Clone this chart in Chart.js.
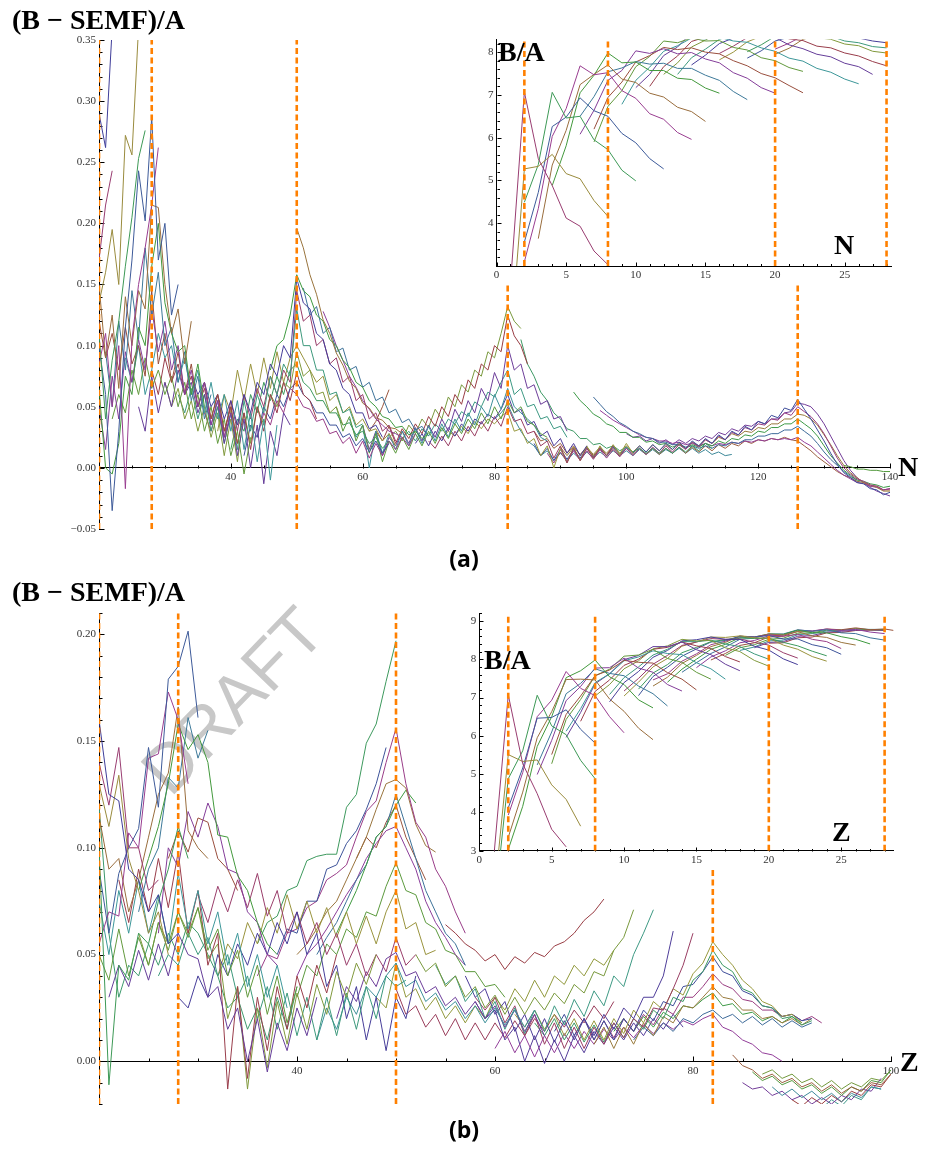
<!DOCTYPE html>
<html><head><meta charset="utf-8">
<script src="https://cdn.jsdelivr.net/npm/chart.js@4.4.1/dist/chart.umd.min.js"></script>
<style>
html,body{margin:0;padding:0;background:#fff;}
body{width:935px;height:1149px;position:relative;overflow:hidden;}
canvas{position:absolute;}
.main{z-index:1;}
.inset{z-index:2;background:#fff;}
.lbl{position:absolute;line-height:1;white-space:nowrap;color:#000;z-index:5;}
.serif{font-family:"Liberation Serif","Times New Roman",serif;font-weight:bold;font-size:28px;}
.cap{font-family:"Open Sans",sans-serif;font-weight:bold;font-size:23px;transform:translateX(-50%);}
#draft{position:absolute;font-family:"Liberation Sans",Arial,sans-serif;font-size:68px;color:#c8c8c8;left:232px;top:700px;transform:translate(-50%,-50%) rotate(-46deg);z-index:0;line-height:1;white-space:nowrap;}
</style></head><body>
<div id="draft">DRAFT</div>
<canvas id="mainA" class="main" width="935" height="520" style="left:0;top:26px"></canvas>
<canvas id="insetA" class="inset" width="428" height="256" style="left:468px;top:28px"></canvas>
<canvas id="mainB" class="main" width="935" height="522" style="left:0;top:598px"></canvas>
<canvas id="insetB" class="inset" width="444" height="268" style="left:452px;top:601px"></canvas>
<div class="lbl serif" style="left:12px;top:6px">(B − SEMF)/A</div>
<div class="lbl serif" style="left:12px;top:578px">(B − SEMF)/A</div>
<div class="lbl serif" style="left:498px;top:38px">B/A</div>
<div class="lbl serif" style="left:484px;top:646px">B/A</div>
<div class="lbl serif" style="left:834px;top:231px">N</div>
<div class="lbl serif" style="left:832px;top:818px">Z</div>
<div class="lbl serif" style="left:898px;top:453px">N</div>
<div class="lbl serif" style="left:900px;top:1048px">Z</div>
<div class="lbl cap" style="left:464px;top:547px">(a)</div>
<div class="lbl cap" style="left:464px;top:1118px">(b)</div>
<script>
// ---------------- data ----------------
const magicA = [20, 28, 50, 82, 126];
const magicB = [20, 28, 50, 82];
const magicInset = [2, 8, 20, 28];

const ticksAX = [40, 60, 80, 100, 120, 140];
const ticksAY = [-0.05, 0, 0.05, 0.10, 0.15, 0.20, 0.25, 0.30, 0.35];
const ticksBX = [40, 60, 80, 100];
const ticksBY = [0, 0.05, 0.10, 0.15, 0.20];
const ticksIAX = [0, 5, 10, 15, 20, 25];
const ticksIAY = [4, 5, 6, 7, 8];
const ticksIBX = [0, 5, 10, 15, 20, 25];
const ticksIBY = [3, 4, 5, 6, 7, 8, 9];

// panel (a): (B-SEMF)/A versus N, one line per isotopic chain; first N of each chain
const mainAStart = [20,20,20,20,20,20,20,20,21,20,20,22,24,26,28,30,32,34,36,38,40,42,44,50,46,51,54,61,56,58,60,62,64,66,68,70,72,84,86,88,90,92,95,96,86,133,80,100];
const mainAVals = [
 [0.290,0.262,0.360],
 [0.170,0.215,0.243],
 [0.135,0.160,0.195,0.150,0.272,0.256,0.360],
 [0.110,0.040,0.088,0.120,0.165,0.205,0.253,0.276],
 [0.100,0.060,-0.035,0.030,0.115,0.170,0.243,0.202,0.287,0.170,0.200,0.125,0.150],
 [0.085,0.110,0.050,0.100,-0.017,0.105,0.150,0.180,0.215,0.262],
 [0.150,0.090,0.125,0.065,0.140,0.100,0.145,0.130,0.215,0.213,0.150,0.110,0.130,0.085,0.120],
 [0.065,0.000,-0.005,0.020,0.075,0.060,0.115,0.100,0.165,0.200,0.135,0.110,0.095,0.100,0.060,0.085,0.050],
 [0.095,0.050,0.120,0.080,0.145,0.105,0.180,0.125,0.160,0.100,0.115,0.070,0.095,0.055,0.075,0.040,0.060],
 [0.050,0.015,0.075,0.040,0.095,0.070,0.105,0.080,0.130,0.095,0.120,0.080,0.100,0.060,0.080,0.050,0.070,0.035,0.055,0.025,0.045],
 [0.120,0.090,0.110,0.080,0.115,0.085,0.100,0.075,0.145,0.085,0.110,0.070,0.095,0.060,0.085,0.050,0.070,0.040,0.060,0.030,0.050,0.020],
 [0.040,0.060,0.045,0.080,0.060,0.090,0.065,0.080,0.060,0.075,0.050,0.070,0.040,0.060,0.030,0.050,0.020,0.040,0.010,0.030,-0.005,0.025],
 [0.090,0.070,0.100,0.060,0.080,0.110,0.090,0.100,0.070,0.090,0.060,0.080,0.045,0.070,0.040,0.060,0.030,0.055,0.015,0.045,0.005,0.040,-0.010,0.035],
 [0.050,0.030,0.075,0.045,0.070,0.050,0.080,0.060,0.070,0.045,0.060,0.035,0.055,0.020,0.045,0.010,0.040,0.000,0.035,-0.013,0.030,0.010,0.045,0.035],
 [0.080,0.060,0.090,0.070,0.085,0.060,0.075,0.050,0.065,0.040,0.060,0.030,0.050,0.020,0.045,0.015,0.050,0.030,0.060,0.045,0.070,0.055,0.078,0.060,0.055,0.040],
 [0.070,0.050,0.065,0.040,0.055,0.030,0.050,0.025,0.045,0.010,0.040,0.005,0.045,0.020,0.050,0.035,0.060,0.050,0.070,0.065,0.095,0.075,0.080,0.060,0.062,0.045,0.050,0.035],
 [0.060,0.045,0.065,0.040,0.060,0.030,0.050,0.020,0.045,0.015,0.055,0.030,0.060,0.045,0.075,0.060,0.085,0.075,0.130,0.100,0.100,0.080,0.080,0.060,0.062,0.045,0.048,0.033,0.036],
 [0.075,0.060,0.070,0.050,0.060,0.040,0.055,0.035,0.060,0.045,0.070,0.060,0.085,0.075,0.100,0.090,0.155,0.135,0.130,0.110,0.105,0.085,0.080,0.065,0.060,0.045,0.045,0.032,0.035,0.025],
 [0.045,0.030,0.050,0.025,0.055,0.030,0.060,0.040,0.065,0.050,0.075,0.060,0.080,0.070,0.145,0.120,0.125,0.100,0.105,0.085,0.090,0.070,0.075,0.055,0.060,0.040,0.045,0.030,0.035,0.022],
 [0.030,0.060,0.045,0.080,0.055,0.085,0.060,0.090,0.065,0.095,0.070,0.090,0.100,0.090,0.080,0.070,0.075,0.055,0.060,0.045,0.050,0.035,0.040,0.030,0.032,0.022,0.028,0.018],
 [0.015,0.040,0.030,0.060,0.045,0.070,0.055,0.075,0.060,0.080,0.085,0.070,0.065,0.055,0.055,0.045,0.045,0.035,0.037,0.027,0.030,0.020,0.025,0.016,0.022],
 [0.010,0.035,0.025,0.050,0.040,0.060,0.050,0.065,0.070,0.060,0.055,0.045,0.045,0.035,0.035,0.025,0.028,0.018,0.024,0.013,0.022,0.012,0.020],
 [0.025,0.045,0.035,0.055,0.045,0.065,0.060,0.050,0.048,0.038,0.040,0.028,0.030,0.020,0.025,0.012,0.022,0.008,0.020,0.010,0.022,0.015,0.025,0.018,0.028],
 [0.196,0.180,0.158,0.142,0.121,0.110,0.094,0.084,0.071,0.065,0.053,0.049,0.041,0.039,0.033,0.032,0.028],
 [0.080,0.100,0.105,0.125,0.158,0.145,0.140,0.125,0.120,0.105,0.100,0.088,0.082,0.070,0.066,0.055,0.050,0.042,0.040,0.033,0.034,0.027,0.030,0.024,0.028],
 [0.147,0.125,0.132,0.110,0.115,0.095,0.098,0.080,0.083,0.066,0.070,0.055,0.058,0.045,0.048,0.037,0.040,0.031,0.034,0.026],
 [0.128,0.115,0.100,0.088,0.075,0.066,0.055,0.048,0.040,0.035,0.030,0.028,0.025],
 [0.030,0.038,0.050,0.064],
 [0.050,0.030,0.042,0.022,0.035,0.012,0.028,0.005,0.022,0.012,0.025,0.015,0.028,0.018,0.030,0.020,0.033,0.024,0.036,0.028,0.040,0.032,0.045,0.036,0.050,0.040,0.055,0.045,0.050,0.038,0.035,0.028,0.025],
 [0.040,0.025,0.035,0.000,0.030,0.012,0.028,0.015,0.030,0.018,0.032,0.020,0.034,0.022,0.036,0.025,0.040,0.030,0.045,0.035,0.050,0.042,0.060,0.048,0.065,0.050,0.045,0.040,0.035,0.025,0.022],
 [0.035,0.015,0.030,0.010,0.025,0.018,0.030,0.020,0.033,0.022,0.035,0.025,0.040,0.030,0.048,0.038,0.055,0.045,0.065,0.055,0.078,0.065,0.100,0.080,0.085,0.065,0.068,0.052,0.055,0.040,0.042,0.030],
 [0.030,0.022,0.034,0.020,0.032,0.024,0.036,0.028,0.042,0.034,0.050,0.042,0.060,0.052,0.072,0.065,0.085,0.080,0.100,0.095,0.125,0.108,0.100,0.085],
 [0.025,0.030,0.022,0.035,0.028,0.040,0.033,0.048,0.040,0.058,0.050,0.068,0.062,0.080,0.075,0.095,0.090,0.110,0.132,0.120,0.114],
 [0.024,0.030,0.022,0.032,0.026,0.036,0.030,0.040,0.036,0.046,0.042,0.054,0.050,0.062,0.058,0.070,0.080,0.060,0.065,0.050,0.052,0.040,0.042,0.032,0.034,0.025],
 [0.020,0.028,0.018,0.030,0.022,0.033,0.026,0.036,0.030,0.040,0.036,0.044,0.040,0.048,0.060,0.045,0.048,0.035,0.038,0.026,0.030,0.018,0.024,0.012,0.020,0.010,0.018],
 [0.022,0.016,0.026,0.018,0.030,0.022,0.034,0.026,0.038,0.030,0.042,0.034,0.050,0.038,0.040,0.028,0.030,0.018,0.022,0.008,0.018,0.004,0.016,0.006,0.016,0.008,0.016,0.010,0.018],
 [0.024,0.030,0.026,0.034,0.028,0.038,0.032,0.040,0.036,0.042,0.046,0.030,0.032,0.020,0.024,0.010,0.018,0.000,0.016,0.004,0.017,0.006,0.018,0.008,0.018,0.010,0.019,0.011,0.020,0.012],
 [0.105,0.085,0.075,0.062,0.055,0.045,0.040,0.032,0.030,0.024,0.024,0.019,0.020,0.016,0.018,0.014,0.017,0.013,0.016,0.012,0.016,0.012,0.016,0.012,0.017,0.013,0.018,0.014,0.020,0.016],
 [0.020,0.010,0.016,0.006,0.015,0.007,0.015,0.008,0.016,0.009,0.016,0.010,0.017,0.011,0.017,0.012,0.018,0.013,0.019,0.014,0.020,0.015,0.021,0.016,0.022,0.018,0.024,0.020,0.027,0.023,0.030,0.027,0.034,0.031,0.038,0.036,0.043,0.041,0.049,0.047,0.056,0.048,0.040,0.031,0.022,0.012,0.003,-0.004,-0.008,-0.012,-0.013,-0.017,-0.018,-0.022,-0.020],
 [0.012,0.004,0.013,0.005,0.014,0.006,0.014,0.007,0.015,0.008,0.015,0.009,0.016,0.010,0.016,0.011,0.017,0.012,0.018,0.013,0.019,0.015,0.021,0.017,0.023,0.020,0.026,0.023,0.029,0.027,0.033,0.031,0.036,0.035,0.040,0.039,0.045,0.043,0.050,0.046,0.042,0.036,0.028,0.018,0.008,0.000,-0.005,-0.009,-0.011,-0.014,-0.015,-0.018,-0.017],
 [0.017,0.010,0.017,0.011,0.017,0.011,0.017,0.012,0.018,0.012,0.018,0.013,0.018,0.013,0.019,0.014,0.019,0.015,0.020,0.016,0.021,0.018,0.023,0.020,0.025,0.023,0.028,0.026,0.030,0.029,0.033,0.032,0.036,0.036,0.040,0.040,0.044,0.043,0.040,0.035,0.027,0.019,0.010,0.002,-0.004,-0.008,-0.012,-0.014,-0.016,-0.019,-0.019],
 [0.062,0.055,0.050,0.044,0.041,0.036,0.034,0.029,0.029,0.025,0.025,0.021,0.022,0.019,0.020,0.017,0.019,0.016,0.019,0.017,0.020,0.018,0.022,0.020,0.024,0.023,0.027,0.026,0.030,0.029,0.033,0.033,0.036,0.036,0.040,0.036,0.032,0.026,0.018,0.010,0.004,-0.002,-0.006,-0.010,-0.011,-0.013,-0.014,-0.016,-0.015],
 [0.058,0.052,0.046,0.042,0.037,0.034,0.030,0.028,0.025,0.024,0.021,0.021,0.019,0.019,0.017,0.018,0.016,0.018,0.016,0.019,0.018,0.021,0.020,0.023,0.023,0.026,0.026,0.028,0.028,0.031,0.031,0.034,0.030,0.026,0.020,0.013,0.007,0.002,-0.003,-0.007,-0.010],
 [0.047,0.043,0.039,0.036,0.033,0.030,0.027,0.025,0.024,0.022,0.022,0.020,0.021,0.019,0.020,0.018,0.020,0.018,0.020,0.019,0.021,0.020,0.022,0.021,0.023,0.022,0.024,0.023,0.024,0.023,0.025,0.021,0.018,0.013,0.008,0.003,-0.002,-0.006,-0.009,-0.012,-0.013,-0.015,-0.016,-0.018,-0.017],
 [0.030,0.022,0.024,0.016,0.020,0.012,0.018,0.010,0.017,0.010,0.016,0.010,0.016,0.010,0.016,0.011,0.016,0.011,0.016,0.011,0.016,0.012,0.017,0.012,0.017,0.013,0.018,0.014,0.019,0.016,0.020,0.018,0.022,0.020,0.023,0.022,0.024,0.023,0.025,0.023,0.022,0.018,0.014,0.009,0.005,0.001,-0.003,-0.006,-0.008,-0.011,-0.012,-0.015,-0.015,-0.018,-0.018],
 [0.002,0.001,-0.001,-0.001,-0.002,-0.002,-0.003,-0.003],
 [0.040,0.045,0.052,0.040,0.030,0.022,0.018,0.010,0.014,0.006,0.012,0.006,0.012,0.007,0.013,0.008,0.013,0.009,0.014,0.010,0.014,0.010,0.015,0.011,0.015,0.011,0.015,0.012,0.016,0.012,0.016,0.012,0.015,0.011,0.013,0.010,0.011],
 [0.028,0.025,0.026,0.022,0.024,0.020,0.023,0.019,0.023,0.020,0.024,0.022,0.026,0.024,0.029,0.027,0.032,0.030,0.035,0.034,0.038,0.036,0.040,0.040,0.045,0.046,0.053,0.052,0.050,0.044,0.036,0.026,0.016,0.006,-0.002,-0.008,-0.012,-0.016,-0.019,-0.021,-0.023]
];

// panel (b): (B-SEMF)/A versus Z, one line per isotonic chain; first Z of each chain
const mainBStart = [20,20,20,20,20,20,20,24,24,26,27,20,20,21,22,24,26,28,30,32,36,38,36,40,44,42,40,46,40,42,44,55,52,54,57,58,62,64,66,68,70,72,74,60,84,86,88,85,90,87,92,58,50,48,20];
const mainBVals = [
 [0.160,0.125,0.122,0.090,0.085,0.070,0.078,0.055,0.060],
 [0.140,0.120,0.147,0.100,0.100,0.080,0.085],
 [0.130,0.110,0.134,0.095,0.080,0.060,0.070,0.050],
 [0.100,-0.011,0.045,0.038,0.060,0.055,0.075,0.090,0.110,0.095],
 [0.090,0.060,0.088,0.100,0.109,0.147,0.119,0.179,0.185,0.2015,0.161],
 [0.055,0.070,0.068,0.107,0.100,0.142,0.144,0.173,0.160,0.130],
 [0.115,0.090,0.095,0.070,0.085,0.105,0.125,0.135,0.166,0.108,0.100,0.095],
 [0.080,0.095,0.110,0.130,0.158,0.146,0.153,0.140,0.106,0.105,0.087,0.080,0.065,0.055,0.050],
 [0.070,0.090,0.100,0.133,0.128,0.161,0.142,0.155],
 [0.060,0.100,0.091,0.117,0.105,0.121,0.110,0.090,0.088,0.070,0.065,0.050,0.045],
 [0.095,0.108,0.098,0.114,0.112,0.095,0.090,0.080],
 [0.050,0.038,0.062,0.040,0.058,0.045,0.065,0.052,0.070,0.058,0.072,0.052,0.062,0.040,0.052,0.030,0.045,0.022,0.040,0.018,0.035],
 [0.075,0.050,0.080,0.060,0.085,0.060,0.078,0.055,0.088,0.062,0.080,0.055,0.070,0.045,0.060,0.035,0.050,0.030,0.045,0.025],
 [0.030,0.045,0.035,0.052,0.038,0.055,0.040,0.060,0.050,0.048,0.030,0.035,0.015,0.025,0.000,0.020,-0.005,0.018,0.005,0.025,0.012,0.030],
 [0.085,0.065,0.090,0.070,0.095,0.072,0.098,0.060,0.080,0.045,0.060,-0.013,0.035,-0.008,0.030,0.005,0.035,0.015,0.040,0.025,0.045,0.032,0.050],
 [0.060,0.045,0.065,0.055,0.070,0.060,0.072,0.048,0.055,0.020,0.035,-0.013,0.025,-0.003,0.028,0.008,0.032,0.015,0.036,0.022,0.042,0.030,0.046,0.036,0.050],
 [0.040,0.050,0.045,0.060,0.050,0.058,0.040,0.050,0.030,0.040,0.020,0.035,0.015,0.032,0.012,0.030,0.010,0.030,0.012,0.032,0.015,0.035,0.020,0.040,0.035,0.038],
 [0.030,0.025,0.040,0.030,0.050,0.040,0.055,0.045,0.060,0.050,0.065,0.055,0.070,0.050,0.060,0.035,0.045,0.020,0.035,0.010,0.030,0.005,0.030,0.020,0.040],
 [0.078,0.065,0.082,0.070,0.085,0.072,0.088,0.068,0.080,0.060,0.070,0.055,0.065,0.050,0.060,0.045,0.055,0.040,0.050,0.042,0.058,0.045,0.050],
 [0.040,0.055,0.048,0.065,0.055,0.072,0.060,0.078,0.062,0.075,0.060,0.072,0.058,0.070,0.055,0.068,0.055,0.070,0.080,0.062,0.065,0.050,0.052],
 [0.055,0.065,0.068,0.080,0.082,0.094,0.096,0.097,0.097,0.119,0.125,0.149,0.158,0.178,0.197],
 [0.050,0.062,0.060,0.075,0.075,0.090,0.092,0.102,0.108,0.118,0.130,0.147],
 [0.040,0.050,0.048,0.060,0.062,0.072,0.075,0.085,0.088,0.092,0.105,0.117,0.122,0.140,0.156,0.130,0.112,0.105,0.090,0.082,0.070,0.060],
 [0.050,0.055,0.062,0.070,0.075,0.085,0.095,0.105,0.118,0.130,0.132,0.128,0.111,0.101,0.098],
 [0.060,0.070,0.080,0.092,0.105,0.110,0.120,0.127,0.121],
 [0.050,0.058,0.065,0.075,0.085,0.092,0.105,0.110,0.125,0.110,0.095,0.080,0.070,0.060,0.055,0.045],
 [0.040,0.050,0.055,0.062,0.070,0.078,0.085,0.095,0.102,0.108,0.110,0.100,0.090,0.075,0.065,0.058,0.050,0.045],
 [0.095,0.105,0.100,0.112,0.120,0.105,0.095,0.085],
 [0.030,0.045,0.040,0.055,0.050,0.062,0.058,0.070,0.068,0.082,0.093,0.080,0.078,0.065,0.062,0.052,0.050,0.042,0.042,0.035,0.036,0.030],
 [0.010,0.025,0.015,0.030,0.022,0.035,0.030,0.040,0.046,0.035,0.038,0.028,0.032,0.024,0.028,0.020,0.026,0.018,0.025,0.017,0.024,0.016,0.024],
 [0.020,0.035,0.028,0.042,0.035,0.048,0.051,0.040,0.042,0.032,0.035,0.026,0.030,0.022,0.028,0.020,0.026,0.016,0.024,0.014,0.022,0.012],
 [0.064,0.060,0.055,0.052,0.047,0.050,0.043,0.049,0.046,0.051,0.049,0.054,0.056,0.060,0.066,0.070,0.076],
 [0.050,0.042,0.046,0.035,0.040,0.030,0.035,0.025,0.031,0.022,0.030,0.022,0.030,0.024,0.032,0.027,0.036,0.032,0.042,0.040,0.052,0.058,0.071],
 [0.045,0.036,0.040,0.028,0.034,0.020,0.028,0.015,0.025,0.013,0.024,0.014,0.026,0.017,0.029,0.021,0.033,0.026,0.040,0.035,0.050,0.060,0.071],
 [0.040,0.030,0.034,0.022,0.028,0.014,0.022,0.010,0.020,0.009,0.019,0.010,0.020,0.012,0.022,0.015,0.025,0.020,0.030,0.030,0.040,0.061],
 [0.030,0.024,0.030,0.018,0.026,0.012,0.022,0.008,0.018,0.006,0.016,0.006,0.016,0.008,0.018,0.011,0.020,0.016,0.025,0.024,0.034,0.045,0.060],
 [0.022,0.016,0.024,0.015,0.022,0.012,0.020,0.010,0.019,0.010,0.020,0.013,0.024,0.018,0.028,0.024,0.034,0.031,0.041,0.046,0.056,0.050,0.045,0.038,0.034,0.028,0.026,0.021,0.022,0.018],
 [0.018,0.012,0.020,0.010,0.018,0.009,0.017,0.009,0.018,0.011,0.020,0.015,0.024,0.020,0.030,0.028,0.038,0.042,0.052,0.045,0.042,0.034,0.032,0.026,0.025,0.020,0.021,0.017,0.019],
 [0.014,0.022,0.012,0.020,0.010,0.019,0.010,0.020,0.014,0.024,0.019,0.028,0.026,0.035,0.036,0.042,0.049,0.042,0.040,0.033,0.031,0.026,0.025,0.021,0.022,0.019,0.020],
 [0.012,0.020,0.010,0.019,0.011,0.020,0.014,0.022,0.017,0.025,0.022,0.030,0.030,0.035,0.041,0.036,0.034,0.029,0.028,0.024,0.024,0.021,0.022,0.019,0.021,0.018],
 [0.008,0.016,0.006,0.016,0.008,0.018,0.012,0.021,0.018,0.026,0.025,0.030,0.035,0.030,0.029,0.024,0.024,0.020,0.021,0.018,0.020,0.017,0.020],
 [0.014,0.020,0.014,0.021,0.016,0.023,0.020,0.026,0.025,0.029,0.032,0.026,0.027,0.022,0.023,0.019,0.021,0.018,0.021,0.018],
 [0.010,0.016,0.012,0.018,0.014,0.020,0.018,0.022,0.024,0.020,0.022,0.018,0.021,0.017,0.020,0.016,0.019,0.016,0.018],
 [0.006,0.014,0.004,0.012,0.002,0.012,0.004,0.013,0.006,0.014,0.008,0.015,0.010,0.016,0.011,0.017,0.013,0.018,0.015,0.019,0.017,0.020,0.022,0.016,0.014,0.010,0.008,0.004,0.003,0.000],
 [0.003,-0.002,-0.004,-0.008,-0.006,-0.010,-0.008,-0.012,-0.010,-0.014,-0.011,-0.015,-0.012,-0.014,-0.010,-0.011,-0.006],
 [-0.005,-0.009,-0.007,-0.011,-0.009,-0.013,-0.011,-0.015,-0.012,-0.016,-0.012,-0.014,-0.009,-0.010,-0.004],
 [-0.012,-0.016,-0.013,-0.017,-0.014,-0.018,-0.015,-0.019,-0.015,-0.017,-0.012,-0.013],
 [-0.010,-0.013,-0.012,-0.016,-0.014,-0.018,-0.016,-0.020,-0.017,-0.020,-0.016,-0.018,-0.013,-0.014,-0.008],
 [-0.018,-0.021,-0.017,-0.020,-0.016,-0.019,-0.014,-0.016,-0.011,-0.012,-0.006],
 [-0.006,-0.004,-0.008,-0.006,-0.010,-0.008,-0.012,-0.009,-0.013,-0.010,-0.012,-0.008,-0.009,-0.004],
 [-0.020,-0.022,-0.018,-0.021,-0.016,-0.018,-0.012,-0.013],
 [0.028,0.020,0.024,0.010,0.016,0.000,0.012,-0.001,0.010,0.000,0.012,0.004,0.014,0.008,0.016,0.010,0.018,0.012,0.020,0.015,0.022,0.016],
 [0.034,0.022,0.026,0.016,0.022,0.012,0.020,0.010,0.018,0.010,0.018,0.011,0.019,0.012,0.020,0.014,0.022,0.016,0.024,0.018,0.026,0.020,0.028],
 [0.030,0.025,0.046,0.030,0.034,0.024,0.030,0.020,0.026,0.018,0.026,0.020,0.030,0.024,0.034,0.028,0.038,0.030,0.040,0.036,0.045,0.040,0.048,0.045,0.052],
 [0.120,0.060,0.030,0.045,0.040,0.055,0.045,0.060,0.050,0.065,0.060,0.050,0.040,0.025,0.030,0.015,0.025,0.010,0.030,0.015,0.035]
];

// inset (a): B/A (MeV) versus N for light isotopic chains (proton number, first N)
const insetAZ = [2,3,4,5,6,7,8,9,10,11,12,13,14,15,16,17,18,19,20,21,22,23,24];
const insetAStart = [1,1,2,2,2,3,4,6,6,7,7,9,10,11,12,13,14,16,16,18,18,20,20];
const insetAVals = [
 [2.57,7.07,5.51,4.88,4.12,3.93,3.35,3.03],
 [1.15,5.27,5.33,5.61,5.16,5.04,4.53,4.16],
 [4.49,5.37,7.06,6.46,6.50,5.95,5.72,5.24,4.99],
 [3.56,4.72,6.26,6.48,6.93,6.63,6.50,6.10,5.88,5.51,5.27],
 [3.10,4.34,6.03,6.68,7.68,7.47,7.52,7.10,6.92,6.56,6.43,6.12,5.96],
 [3.64,5.36,6.17,7.24,7.48,7.70,7.37,7.29,7.04,6.95,6.71,6.61,6.38],
 [4.88,5.81,7.05,7.46,7.98,7.75,7.77,7.57,7.57,7.39,7.36,7.16,7.04],
 [6.50,6.96,7.54,7.63,7.78,7.72,7.74,7.62,7.62,7.46,7.34,7.08,6.89],
 [6.08,6.64,7.34,7.57,8.03,7.97,8.08,7.96,7.99,7.84,7.75,7.52,7.39,7.17,7.04],
 [6.20,6.94,7.30,7.77,7.92,8.11,8.06,8.10,8.00,7.96,7.80,7.68,7.50,7.40,7.22,7.05],
 [5.90,6.73,7.10,7.66,7.90,8.26,8.22,8.33,8.26,8.27,8.11,8.05,7.87,7.80,7.64,7.55],
 [6.78,7.34,7.65,8.02,8.15,8.33,8.31,8.35,8.26,8.23,8.10,8.02,7.86,7.79,7.62,7.53,7.37,7.26],
 [7.17,7.48,7.92,8.12,8.45,8.45,8.52,8.46,8.48,8.36,8.34,8.17,8.08,7.95,7.89,7.74,7.66,7.48],
 [7.20,7.66,7.91,8.25,8.35,8.48,8.46,8.51,8.45,8.45,8.31,8.27,8.14,8.10,7.98,7.91,7.78,7.68],
 [7.48,7.75,8.12,8.28,8.49,8.50,8.58,8.54,8.58,8.46,8.45,8.34,8.30,8.19,8.15,8.02,7.98],
 [7.48,7.87,8.07,8.30,8.40,8.52,8.52,8.57,8.51,8.50,8.40,8.37,8.26,8.22,8.13,8.10],
 [7.70,7.93,8.20,8.33,8.52,8.53,8.61,8.56,8.60,8.48,8.45,8.37,8.33,8.26,8.22],
 [7.97,8.14,8.34,8.44,8.56,8.54,8.58,8.58,8.58,8.53,8.51,8.43,8.40],
 [7.82,8.00,8.24,8.37,8.55,8.55,8.62,8.60,8.66,8.60,8.67,8.56,8.52],
 [8.01,8.17,8.37,8.44,8.53,8.56,8.62,8.62,8.66,8.61,8.63],
 [7.86,8.03,8.26,8.35,8.53,8.60,8.72,8.73,8.76,8.70,8.72],
 [8.07,8.21,8.38,8.48,8.62,8.70,8.74,8.74,8.74],
 [7.95,8.09,8.30,8.38,8.57,8.66,8.78,8.78,8.78]
];

// inset (b): B/A (MeV) versus Z for light isotonic chains (neutron number, first Z)
const insetBN = [2,3,4,5,6,7,8,9,10,11,12,13,14,15,16,17,18,19,20,21,22,23,24,25,26,27,28,29,30,31,32];
const insetBStart = [1,1,1,2,2,2,2,4,4,5,5,6,6,7,8,9,9,10,10,11,11,12,12,13,14,15,16,17,18,19,20];
const insetBVals = [
 [2.83,7.07,5.27,4.49,3.56,3.10],
 [1.72,5.51,5.33,5.37,4.72,4.34,3.64],
 [1.34,4.88,5.61,7.06,6.26,6.03,5.36,4.88],
 [4.12,5.16,6.46,6.48,6.68,6.17,5.81],
 [3.93,5.04,6.50,6.93,7.68,7.24,7.05,6.50,6.08],
 [3.35,4.53,5.95,6.63,7.47,7.48,7.46,6.96,6.64,6.20,5.90],
 [3.03,4.16,5.72,6.50,7.52,7.70,7.98,7.54,7.34,6.94,6.73],
 [5.24,6.10,7.10,7.37,7.75,7.63,7.57,7.30,7.10,6.78],
 [4.99,5.88,6.92,7.29,7.77,7.78,8.03,7.77,7.66,7.34,7.17],
 [5.51,6.56,7.04,7.57,7.72,7.97,7.92,7.90,7.65,7.48,7.20],
 [5.27,6.43,6.95,7.57,7.74,8.08,8.11,8.26,8.02,7.92,7.66,7.48],
 [6.12,6.71,7.39,7.62,7.96,8.06,8.22,8.15,8.12,7.91,7.75,7.48],
 [5.96,6.61,7.36,7.62,7.99,8.10,8.33,8.33,8.45,8.25,8.12,7.87,7.70],
 [6.38,7.16,7.46,7.84,8.00,8.26,8.31,8.45,8.35,8.28,8.07,7.93],
 [7.04,7.34,7.75,7.96,8.27,8.35,8.52,8.48,8.49,8.30,8.20,7.97,7.82],
 [7.08,7.52,7.80,8.11,8.26,8.46,8.46,8.50,8.40,8.33,8.14,8.00],
 [6.89,7.39,7.68,8.05,8.23,8.48,8.51,8.58,8.52,8.52,8.34,8.24,8.01,7.86],
 [7.17,7.50,7.87,8.10,8.36,8.45,8.54,8.52,8.53,8.44,8.37,8.17,8.03],
 [7.04,7.40,7.80,8.02,8.34,8.45,8.58,8.57,8.61,8.56,8.55,8.37,8.26,8.07,7.95],
 [7.22,7.64,7.86,8.17,8.31,8.46,8.51,8.56,8.54,8.55,8.44,8.35,8.21,8.09],
 [7.05,7.55,7.79,8.08,8.27,8.45,8.49,8.60,8.58,8.62,8.53,8.53,8.38,8.30,8.13],
 [7.46,7.62,7.95,8.14,8.38,8.47,8.59,8.58,8.64,8.60,8.65,8.52,8.46,8.28],
 [7.30,7.53,7.89,8.10,8.33,8.44,8.61,8.58,8.66,8.63,8.72,8.61,8.57,8.44,8.37],
 [7.40,7.74,8.00,8.26,8.39,8.56,8.58,8.66,8.65,8.76,8.69,8.69,8.59,8.52,8.40],
 [7.66,7.91,8.15,8.32,8.52,8.55,8.66,8.66,8.77,8.73,8.77,8.69,8.67,8.56,8.50],
 [7.78,8.06,8.22,8.43,8.49,8.61,8.63,8.76,8.74,8.79,8.75,8.78,8.71,8.67],
 [7.98,8.15,8.36,8.43,8.58,8.60,8.73,8.73,8.79,8.77,8.82,8.77,8.79,8.73],
 [8.10,8.30,8.38,8.52,8.55,8.68,8.69,8.76,8.76,8.80,8.77,8.77],
 [8.23,8.32,8.48,8.50,8.64,8.67,8.74,8.76,8.79,8.78,8.78],
 [8.30,8.44,8.46,8.60,8.62,8.71,8.73,8.76,8.77,8.75],
 [8.42,8.43,8.56,8.58,8.69,8.70,8.75,8.76,8.76]
];

// ---------------- styling helpers ----------------
function mmaColor(i) {
  const h = ((0.67 + 2 * (i - 1) / 1.6180339887) % 1 + 1) % 1;
  const s = 0.6, v = 0.6;
  const k = h * 6, f = k - Math.floor(k);
  const p = v * (1 - s), q = v * (1 - s * f), t = v * (1 - s * (1 - f));
  let r, g, b;
  switch (Math.floor(k) % 6) {
    case 0: r = v; g = t; b = p; break;
    case 1: r = q; g = v; b = p; break;
    case 2: r = p; g = v; b = t; break;
    case 3: r = p; g = q; b = v; break;
    case 4: r = t; g = p; b = v; break;
    default: r = v; g = p; b = q;
  }
  return 'rgb(' + Math.round(r * 255) + ',' + Math.round(g * 255) + ',' + Math.round(b * 255) + ')';
}
function seriesDatasets(starts, vals, colorIdx) {
  return vals.map((arr, i) => ({
    data: arr.map((y, k) => ({ x: starts[i] + k, y: y })),
    borderColor: mmaColor(colorIdx ? colorIdx[i] : i + 1),
    borderWidth: 1, showLine: true, pointRadius: 0, pointHoverRadius: 0, fill: false, tension: 0
  }));
}
function magicDatasets(ms, ymin, ymax) {
  return ms.map(m => ({
    data: [{ x: m, y: ymin }, { x: m, y: ymax }],
    borderColor: '#FF8000', borderWidth: 2.6, borderDash: [6, 3.5],
    showLine: true, pointRadius: 0, pointHoverRadius: 0, fill: false
  }));
}
const mmaAxes = {
  id: 'mmaAxes',
  beforeDatasetsDraw(chart, args, o) {
    const ctx = chart.ctx, xs = chart.scales.x, ys = chart.scales.y;
    const x0 = Math.round(xs.getPixelForValue(xs.min)) + 0.5;
    const y0 = Math.round(ys.getPixelForValue(o.yCross)) + 0.5;
    ctx.save();
    ctx.strokeStyle = '#000'; ctx.lineWidth = 1;
    ctx.beginPath();
    const k0 = Math.ceil(xs.min / o.xMinor - 1e-9), k1 = Math.floor(xs.max / o.xMinor + 1e-9);
    for (let k = k0; k <= k1; k++) {
      const v = k * o.xMinor;
      const major = Math.abs(v / o.xMajor - Math.round(v / o.xMajor)) < 1e-6;
      const px = Math.round(xs.getPixelForValue(v)) + 0.5;
      ctx.moveTo(px, y0); ctx.lineTo(px, y0 - (major ? o.major : o.minor));
    }
    const j0 = Math.ceil(ys.min / o.yMinor - 1e-9), j1 = Math.floor(ys.max / o.yMinor + 1e-9);
    for (let j = j0; j <= j1; j++) {
      const v = j * o.yMinor;
      const major = Math.abs(v / o.yMajor - Math.round(v / o.yMajor)) < 1e-6;
      const py = Math.round(ys.getPixelForValue(v)) + 0.5;
      ctx.moveTo(x0, py); ctx.lineTo(x0 + (major ? o.major : o.minor), py);
    }
    ctx.stroke();
    ctx.restore();
  }
};
function makeConfig(p) {
  const tickFont = { family: 'Liberation Serif', size: 11 };
  return {
    type: 'scatter',
    data: { datasets: magicDatasets(p.magic, p.ymin, p.ymax).concat(seriesDatasets(p.starts, p.vals, p.colorIdx)) },
    options: {
      responsive: false, animation: false, devicePixelRatio: 1, events: [],
      layout: { padding: p.pad },
      plugins: { legend: { display: false }, tooltip: { enabled: false }, mmaAxes: p.axes },
      scales: {
        x: {
          type: 'linear', min: p.xmin, max: p.xmax, position: { y: p.yCross },
          grid: { display: false, drawTicks: false },
          border: { display: true, color: '#000', width: 1 },
          afterBuildTicks: s => { s.ticks = p.xticks.map(v => ({ value: v })); },
          ticks: { autoSkip: false, maxRotation: 0, padding: 3, color: '#333', font: tickFont, callback: v => String(v) }
        },
        y: {
          type: 'linear', min: p.ymin, max: p.ymax, position: 'left',
          afterFit: s => { s.width = p.yw; },
          grid: { display: false, drawTicks: false },
          border: { display: true, color: '#000', width: 1 },
          afterBuildTicks: s => { s.ticks = p.yticks.map(v => ({ value: v })); },
          ticks: { autoSkip: false, padding: 3, color: '#333', font: tickFont, callback: p.yfmt }
        }
      }
    },
    plugins: [mmaAxes]
  };
}
const fmt2 = v => (v < 0 ? '\u2212' : '') + Math.abs(v).toFixed(2);

new Chart(document.getElementById('mainA'), makeConfig({
  magic: magicA, starts: mainAStart, vals: mainAVals,
  xmin: 20, xmax: 140, ymin: -0.05, ymax: 0.35, yCross: 0,
  xticks: ticksAX, yticks: ticksAY, yfmt: fmt2, yw: 40,
  pad: { left: 59, right: 45, top: 14, bottom: 17 },
  axes: { xMinor: 5, xMajor: 20, yMinor: 0.01, yMajor: 0.05, major: 5, minor: 3, yCross: 0 }
}));
new Chart(document.getElementById('mainB'), makeConfig({
  magic: magicB, starts: mainBStart, vals: mainBVals,
  xmin: 20, xmax: 100, ymin: -0.02, ymax: 0.21, yCross: 0,
  xticks: ticksBX, yticks: ticksBY, yfmt: fmt2, yw: 40,
  pad: { left: 59, right: 44, top: 15, bottom: 16 },
  axes: { xMinor: 5, xMajor: 20, yMinor: 0.01, yMajor: 0.05, major: 5, minor: 3, yCross: 0 }
}));
new Chart(document.getElementById('insetA'), makeConfig({
  magic: magicInset, starts: insetAStart, vals: insetAVals, colorIdx: insetAZ,
  xmin: 0, xmax: 28.37, ymin: 3, ymax: 8.3, yCross: 3,
  xticks: ticksIAX, yticks: ticksIAY, yfmt: v => String(v), yw: 20,
  pad: { left: 8.5, right: 4.3, top: 11.3, bottom: 18 },
  axes: { xMinor: 1, xMajor: 5, yMinor: 0.2, yMajor: 1, major: 4, minor: 2.5, yCross: 3 }
}));
new Chart(document.getElementById('insetB'), makeConfig({
  magic: magicInset, starts: insetBStart, vals: insetBVals, colorIdx: insetBN,
  xmin: 0, xmax: 28.6, ymin: 3, ymax: 9.2, yCross: 3,
  xticks: ticksIBX, yticks: ticksIBY, yfmt: v => String(v), yw: 20,
  pad: { left: 7.3, right: 2.7, top: 12.3, bottom: 18.3 },
  axes: { xMinor: 1, xMajor: 5, yMinor: 0.2, yMajor: 1, major: 4, minor: 2.5, yCross: 3 }
}));
</script>
</body></html>
